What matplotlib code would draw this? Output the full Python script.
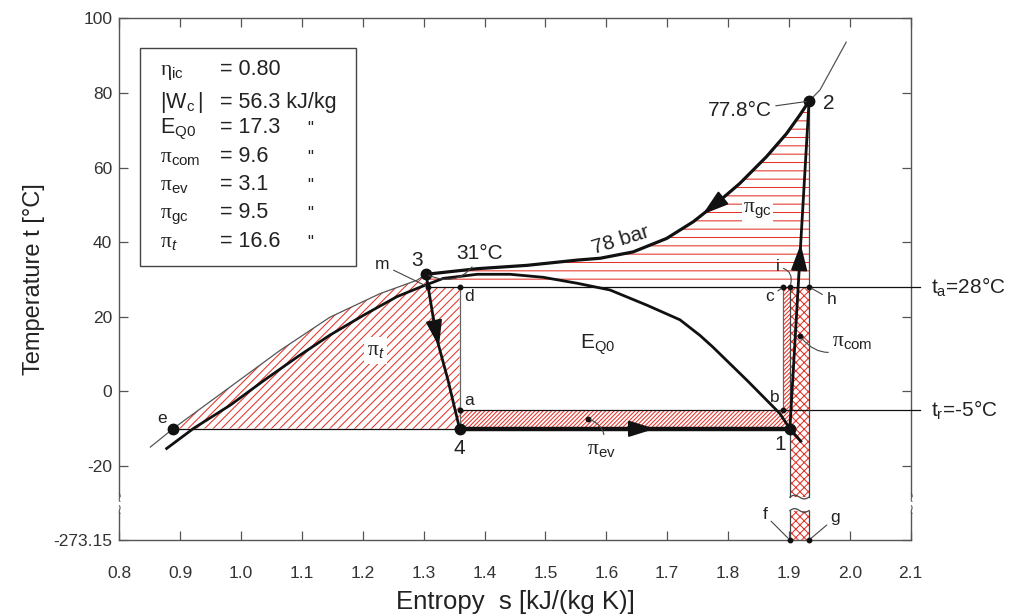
import numpy as np
import matplotlib
matplotlib.use('Agg')
import matplotlib.pyplot as plt
from matplotlib.patches import Polygon, Rectangle

plt.rcParams['font.family'] = ['Liberation Sans', 'DejaVu Sans']
plt.rcParams['mathtext.fontset'] = 'custom'
plt.rcParams['mathtext.rm'] = 'Liberation Sans'
plt.rcParams['mathtext.it'] = 'Liberation Sans:italic'
plt.rcParams['mathtext.sf'] = 'Liberation Serif'
plt.rcParams['hatch.linewidth'] = 0.75

# ---------------- data ----------------
# 78 bar isobar (entropy kJ/(kg K), temperature degC)
iso_s = [0.851, 0.889, 0.982, 1.064, 1.146, 1.228, 1.289, 1.304, 1.388, 1.470,
         1.552, 1.590, 1.644, 1.699, 1.743, 1.781, 1.819, 1.863, 1.896, 1.918,
         1.933, 1.951, 1.994]
iso_t = [-14.9, -9.9, 1.2, 11.0, 19.9, 26.2, 29.8, 31.4, 32.9, 33.8,
         35.2, 35.7, 37.4, 41.0, 45.5, 50.4, 55.7, 62.9, 69.1, 74.1,
         77.8, 80.8, 93.6]
# saturation dome
dome_s = [0.876, 0.922, 0.982, 1.038, 1.092, 1.146, 1.202, 1.256, 1.295, 1.332,
          1.388, 1.442, 1.496, 1.552, 1.606, 1.667, 1.721, 1.754, 1.775, 1.831,
          1.885, 1.9015, 1.921]
dome_t = [-15.5, -9.9, -3.7, 3.0, 9.2, 15.1, 20.5, 25.4, 28.0, 30.3,
          31.4, 31.4, 30.6, 29.0, 27.2, 23.1, 19.2, 15.0, 11.9, 3.0,
          -5.9, -10.0, -13.6]
# throttling 3 -> 4
thr_s = [1.304, 1.321, 1.340, 1.359]
thr_t = [31.4, 14.5, 3.0, -10.0]

# state points
s1, t1 = 1.9015, -10.0
s2, t2 = 1.933, 77.8
s3, t3 = 1.304, 31.4
s4, t4 = 1.359, -10.0
se, te = 0.889, -10.0
t_a = 28.0      # ambient
t_r = -5.0      # refrigerated space
s_b = 1.891     # points b, c
T_ABS = -273.15

# legend texts
leg_syms = [r'$\mathsf{η}_{\mathrm{ic}}$', r'$|\mathrm{W}_{\mathrm{c}}\,|$',
            r'$\mathrm{E}_{\mathrm{Q0}}$', r'$\mathsf{π}_{\mathrm{com}}$',
            r'$\mathsf{π}_{\mathrm{ev}}$', r'$\mathsf{π}_{\mathrm{gc}}$',
            r'$\mathsf{π}_{\mathit{t}}$']
leg_vals = ['= 0.80', '= 56.3 kJ/kg', '= 17.3', '= 9.6', '= 3.1', '= 9.5', '= 16.6']
leg_ditto = ['', '', '"', '"', '"', '"', '"']

x_ticks = [0.8, 0.9, 1.0, 1.1, 1.2, 1.3, 1.4, 1.5, 1.6, 1.7, 1.8, 1.9, 2.0, 2.1]
y_ticks = [-20, 0, 20, 40, 60, 80, 100]

# ---------------- layout helpers ----------------
Y_ABS = -39.8          # where -273.15 sits on the broken axis
BRK_HI, BRK_LO = -28.3, -31.9
RED = '#e5332a'
K = '#111111'
TXT = '#222222'
SP = '#555555'

fig = plt.figure(figsize=(10.1, 6.16), dpi=100)
ax = fig.add_axes([0.1181, 0.1234, 0.7836, 0.8469])
ax.set_xlim(0.8, 2.1)
ax.set_ylim(Y_ABS, 100)

iso_s_a = np.array(iso_s); iso_t_a = np.array(iso_t)
thr_s_a = np.array(thr_s); thr_t_a = np.array(thr_t)
s_m = float(np.interp(t_a, thr_t_a[::-1], thr_s_a[::-1]))

# ---------------- hatched areas ----------------
m_gc = (iso_s_a >= s3) & (iso_s_a <= s2)
gc_poly = list(zip(iso_s_a[m_gc], iso_t_a[m_gc])) + [(s2, t_a), (s_m, t_a)]
ax.add_patch(Polygon(gc_poly, closed=True, facecolor='none', edgecolor=RED,
                     lw=0, hatch='--', zorder=1))

m_t = (iso_s_a >= se) & (iso_s_a <= s3)
t_poly = list(zip(iso_s_a[m_t], iso_t_a[m_t])) + [(s_m, t_a), (s4, t_a), (s4, t4)]
ax.add_patch(Polygon(t_poly, closed=True, facecolor='none', edgecolor=RED,
                     lw=0, hatch='////', zorder=1))

ev_poly = [(s4, t4), (s1, t1), (s1, t_a), (s_b, t_a), (s_b, t_r), (s4, t_r)]
ax.add_patch(Polygon(ev_poly, closed=True, facecolor='none', edgecolor=RED,
                     lw=0, hatch='////////', zorder=1))

ax.add_patch(Rectangle((s1, BRK_HI), s2 - s1, t_a - BRK_HI, facecolor='white',
                       edgecolor=RED, lw=0, hatch='xxxx', zorder=1))
ax.add_patch(Rectangle((s1, Y_ABS), s2 - s1, BRK_LO - Y_ABS, facecolor='white',
                       edgecolor=RED, lw=0, hatch='xxxx', zorder=1))

# ---------------- thin construction lines ----------------
lw_thin = 0.9
ax.plot([s_m, 2.115], [t_a, t_a], color=K, lw=lw_thin, clip_on=False, zorder=3)
ax.plot([s4, 2.115], [t_r, t_r], color=K, lw=lw_thin, clip_on=False, zorder=3)
ax.plot([se, s4], [te, t4], color=K, lw=lw_thin, zorder=3)
ax.plot([s4, s4], [t_a, t4], color='#666666', lw=lw_thin, zorder=3)
ax.plot([s_b, s_b], [t_a, t_r], color='#666666', lw=lw_thin, zorder=3)
for sx, top in ((s1, t_a), (s2, t2)):
    ax.plot([sx, sx], [top, BRK_HI], color='#444444', lw=lw_thin, zorder=3)
    ax.plot([sx, sx], [BRK_LO, Y_ABS], color='#444444', lw=lw_thin, zorder=3)
# break waves on the bar
wx = np.linspace(s1, s2, 20)
wv = np.sin(np.linspace(0, 2 * np.pi, 20))
ax.plot(wx, BRK_HI + 0.5 * wv, color='#444444', lw=lw_thin, zorder=3)
ax.plot(wx, BRK_LO + 0.5 * wv, color='#444444', lw=lw_thin, zorder=3)

# isobar thin parts
ax.plot(iso_s_a[iso_s_a <= s3], iso_t_a[iso_s_a <= s3], color='#555555', lw=0.9, zorder=3)
ax.plot(iso_s_a[iso_s_a >= s2], iso_t_a[iso_s_a >= s2], color='#555555', lw=0.9, zorder=3)

# ---------------- thick process lines ----------------
ax.plot(dome_s, dome_t, color=K, lw=2.0, zorder=4, solid_capstyle='butt',
        solid_joinstyle='round')
ax.plot(iso_s_a[m_gc], iso_t_a[m_gc], color=K, lw=2.3, zorder=4, solid_joinstyle='round')
ax.plot(thr_s, thr_t, color=K, lw=2.0, zorder=4)
ax.plot([s4, s1], [t4, t1], color=K, lw=3.2, zorder=4)
ax.plot([s1, s2], [t1, t2], color=K, lw=2.0, zorder=4)

def arrow(tail, tip):
    ax.annotate('', xy=tip, xytext=tail, zorder=5,
                arrowprops=dict(arrowstyle='-|>,head_length=0.9,head_width=0.28',
                                color=K, lw=1.5, mutation_scale=18,
                                shrinkA=0, shrinkB=0))

arrow((s3 + (s4 - s3) * 0.2, float(np.interp(s3 + (s4 - s3) * 0.2, thr_s, thr_t))),
      (float(np.interp(12.0, thr_t_a[::-1], thr_s_a[::-1])), 12.0))
arrow((1.785, float(np.interp(1.785, iso_s, iso_t))),
      (1.758, float(np.interp(1.758, iso_s, iso_t))))
arrow((1.63, t4), (1.68, t4))
f12 = lambda t: s1 + (s2 - s1) * (t - t1) / (t2 - t1)
arrow((f12(30.0), 30.0), (f12(39.5), 39.5))

# ---------------- points ----------------
for sx, ty in ((s1, t1), (s2, t2), (s3, t3), (s4, t4), (se, te)):
    ax.plot(sx, ty, 'o', color=K, ms=7.5, zorder=6)
small = [(s4, t_a), (s4, t_r), (s_b, t_r), (s_b, t_a), (s1, t_a), (s2, t_a),
         (s1, Y_ABS), (s2, Y_ABS), (1.570, -7.3), (1.918, 14.8), (s_m, t_a)]
for sx, ty in small:
    ax.plot(sx, ty, 'o', color=K, ms=3.2, zorder=6, clip_on=False)

# ---------------- labels ----------------
FS = 15
FSs = 12.5
def lab(txt, xy, off, fs=FS, ha='center', va='center', conn=None, **kw):
    ap = None
    if conn is not None:
        ap = dict(arrowstyle='-', color='#444444', lw=0.8, shrinkA=1, shrinkB=2,
                  connectionstyle=conn)
    ax.annotate(txt, xy=xy, xytext=off, textcoords='offset points', fontsize=fs,
                ha=ha, va=va, color=TXT, arrowprops=ap, zorder=7, annotation_clip=False, **kw)

lab('3', (s3, t3), (-6.5, 10))
lab('31°C', (s3, t3), (22, 15), ha='left', conn='arc3,rad=-0.5')
lab('m', (s_m, t_a), (-33, 16), fs=FSs, conn='arc3,rad=0')
lab('2', (s2, t2), (14, -1.5))
lab('77.8°C', (s2, t2), (-50, -7), conn='arc3,rad=0')
lab('1', (s1, t1), (-7, -11))
lab('4', (s4, t4), (0, -14.5))
lab('e', (se, te), (-8, 7.5), fs=FSs)
lab('d', (s4, t_a), (6.5, -7), fs=FSs)
lab('a', (s4, t_r), (6.5, 7), fs=FSs)
lab('b', (s_b, t_r), (-6, 9), fs=FSs)
lab('c', (s_b, t_a), (-10, -7), fs=FSs, conn='arc3,rad=0')
lab('i', (s1, t_a), (-9, 14.5), fs=FSs, conn='arc3,rad=-0.6')
lab('h', (s2, t_a), (16, -9), fs=FSs, conn='arc3,rad=0')
lab('f', (s1, Y_ABS), (-18, 18), fs=FSs, conn='arc3,rad=0')
lab('g', (s2, Y_ABS), (19, 16), fs=FSs, conn='arc3,rad=0')
lab(r'$\mathsf{π}_{\mathrm{com}}$', (1.918, 14.8), (38, -4), fs=15.5, conn='arc3,rad=-0.5')
lab(r'$\mathsf{π}_{\mathrm{ev}}$', (1.570, -7.3), (10, -22), fs=15.5, conn='arc3,rad=0.5')

ax.text(1.848, 48.5, r'$\mathsf{π}_{\mathrm{gc}}$', fontsize=15.5, ha='center', va='center',
        color=TXT, zorder=7, bbox=dict(facecolor='white', edgecolor='none', pad=1))
ax.text(1.221, 11.0, r'$\mathsf{π}_{\mathit{t}}$', fontsize=15.5, ha='center', va='center',
        color=TXT, zorder=7, bbox=dict(facecolor='white', edgecolor='none', pad=2))
ax.text(1.585, 12.5, r'$\mathrm{E}_{\mathrm{Q0}}$', fontsize=FS, ha='center', va='center',
        color=TXT, zorder=7)
ax.text(1.624, 40.5, '78 bar', fontsize=FS, ha='center', va='center', rotation=17,
        color=TXT, zorder=7)
ax.text(2.134, t_a, r'$\mathrm{t}_{\mathrm{a}}$=28°C', fontsize=FS, ha='left', va='center',
        color=TXT, clip_on=False)
ax.text(2.134, t_r, r'$\mathrm{t}_{\mathrm{r}}$=-5°C', fontsize=FS, ha='left', va='center',
        color=TXT, clip_on=False)

# ---------------- legend box ----------------
ax.add_patch(Rectangle((0.0262, 0.525), 0.2728, 0.418, transform=ax.transAxes,
                       facecolor='white', edgecolor='#444444', lw=1.0, zorder=8))
row_px = [70, 103, 128, 157, 185, 213, 242]
for sym, val, dit, py in zip(leg_syms, leg_vals, leg_ditto, row_px):
    yb = (540 - (py + 5.5)) / 521.7
    ax.text((160 - 119.3) / 791.4, yb, sym, transform=ax.transAxes, fontsize=15.5,
            ha='left', va='baseline', color=TXT, zorder=9)
    ax.text((220 - 119.3) / 791.4, yb, val, transform=ax.transAxes, fontsize=15.5,
            ha='left', va='baseline', color=TXT, zorder=9)
    if dit:
        ax.text((307 - 119.3) / 791.4, yb, dit, transform=ax.transAxes, fontsize=12,
                ha='left', va='baseline', color=TXT, zorder=9)

# ---------------- axes / broken axis ----------------
for side in ('left', 'right'):
    ax.spines[side].set_visible(False)
for side in ('top', 'bottom'):
    ax.spines[side].set_color(SP)
    ax.spines[side].set_linewidth(1.0)
ytr = ax.get_yaxis_transform()
for xa in (0, 1):
    ax.plot([xa, xa], [100, BRK_HI + 0.3], transform=ytr, color=SP, lw=1.0, clip_on=False)
    ax.plot([xa, xa], [BRK_LO - 0.3, Y_ABS], transform=ytr, color=SP, lw=1.0, clip_on=False)
    for yb in (BRK_HI - 0.2, BRK_LO + 0.2):
        ax.text(xa, yb, '≀', transform=ytr, fontsize=10, ha='center', va='center',
                color=SP, family='DejaVu Sans', clip_on=False)

ax.set_xticks(x_ticks)
ax.set_xticklabels([f'{v:.1f}' for v in x_ticks])
ax.set_yticks([Y_ABS] + y_ticks)
ax.set_yticklabels([f'{T_ABS:.2f}'] + [str(v) for v in y_ticks])
ax.tick_params(axis='both', direction='in', length=6.5, width=0.9, color=SP,
               labelsize=12.5, labelcolor='#333333')
ax.tick_params(axis='x', top=True, pad=19)
ax.tick_params(axis='y', right=True, pad=5)

ax.set_xlabel('Entropy  s [kJ/(kg K)]', fontsize=18.5, color=TXT, labelpad=6)
ax.set_ylabel('Temperature t [°C]', fontsize=17, color=TXT, labelpad=6)

fig.savefig('out.png', dpi=100)
